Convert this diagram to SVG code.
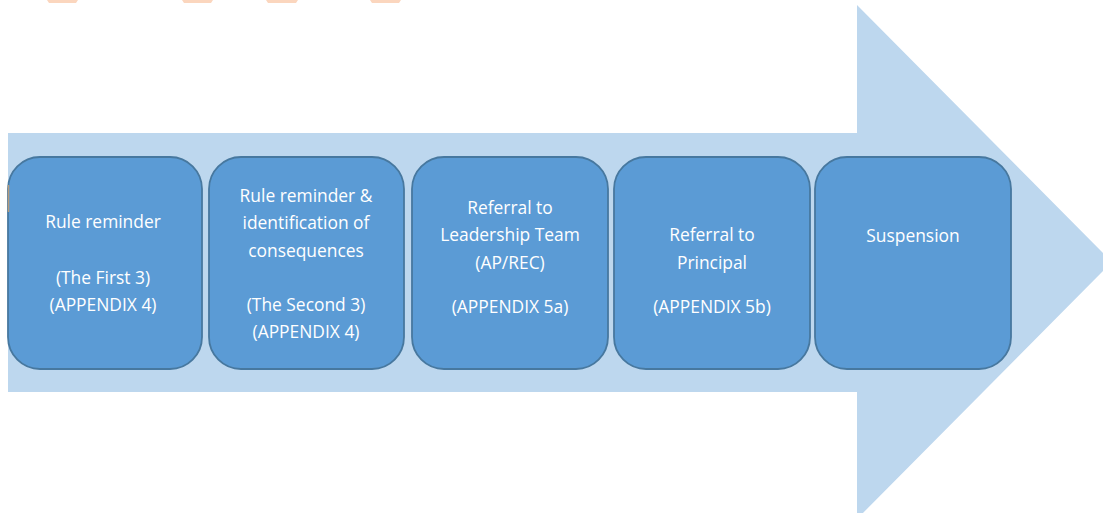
<svg xmlns="http://www.w3.org/2000/svg" width="1103" height="513" viewBox="0 0 1103 513">
  <style>
    .arrow { fill: #BDD7EE; }
    .step { fill: #5B9BD5; stroke: #47789F; stroke-width: 1.8; }
    .label { fill: #FFFFFF; font-family: "Open Sans", "Noto Sans", "DejaVu Sans", sans-serif; font-size: 17.4px; text-anchor: middle; }
    .hl { fill: #FBD6BE; }
  </style>

  <!-- clipped highlight strip along the top edge -->
  <g id="top-highlights">
    <polygon class="hl" points="47,0 78,0 76,3 49,3"/>
    <polygon class="hl" points="182,0 213,0 211,3 184,3"/>
    <polygon class="hl" points="266,0 298,0 296,3 268,3"/>
    <polygon class="hl" points="370,0 401,0 399,3 372,3"/>
  </g>

  <!-- large background arrow -->
  <g id="process-arrow">
    <polygon class="arrow" points="8,133 857,133 857,5 1112,262 857,519 857,392 8,392"/>
  </g>

  <g id="step-1">
    <rect class="step" x="8" y="157" width="194" height="212" rx="32" ry="32"/>
    <line x1="8.5" y1="185" x2="8.5" y2="212" stroke="#B39A7C" stroke-width="1.6"/>
    <text class="label" x="103" y="228">Rule reminder</text>
    <text class="label" x="103" y="284">(The First 3)</text>
    <text class="label" x="103" y="311">(APPENDIX 4)</text>
  </g>

  <g id="step-2">
    <rect class="step" x="209" y="157" width="195" height="212" rx="32" ry="32"/>
    <text class="label" x="306" y="202">Rule reminder &amp;</text>
    <text class="label" x="306" y="229">identification of</text>
    <text class="label" x="306" y="257">consequences</text>
    <text class="label" x="306" y="311">(The Second 3)</text>
    <text class="label" x="306" y="338">(APPENDIX 4)</text>
  </g>

  <g id="step-3">
    <rect class="step" x="412" y="157" width="196" height="212" rx="32" ry="32"/>
    <text class="label" x="510" y="214">Referral to</text>
    <text class="label" x="510" y="241">Leadership Team</text>
    <text class="label" x="510" y="269">(AP/REC)</text>
    <text class="label" x="510" y="313">(APPENDIX 5a)</text>
  </g>

  <g id="step-4">
    <rect class="step" x="614" y="157" width="196" height="212" rx="32" ry="32"/>
    <text class="label" x="712" y="241">Referral to</text>
    <text class="label" x="712" y="269">Principal</text>
    <text class="label" x="712" y="313">(APPENDIX 5b)</text>
  </g>

  <g id="step-5">
    <rect class="step" x="815" y="157" width="196" height="212" rx="32" ry="32"/>
    <text class="label" x="913" y="242">Suspension</text>
  </g>

  <g id="connectors"></g>
</svg>
